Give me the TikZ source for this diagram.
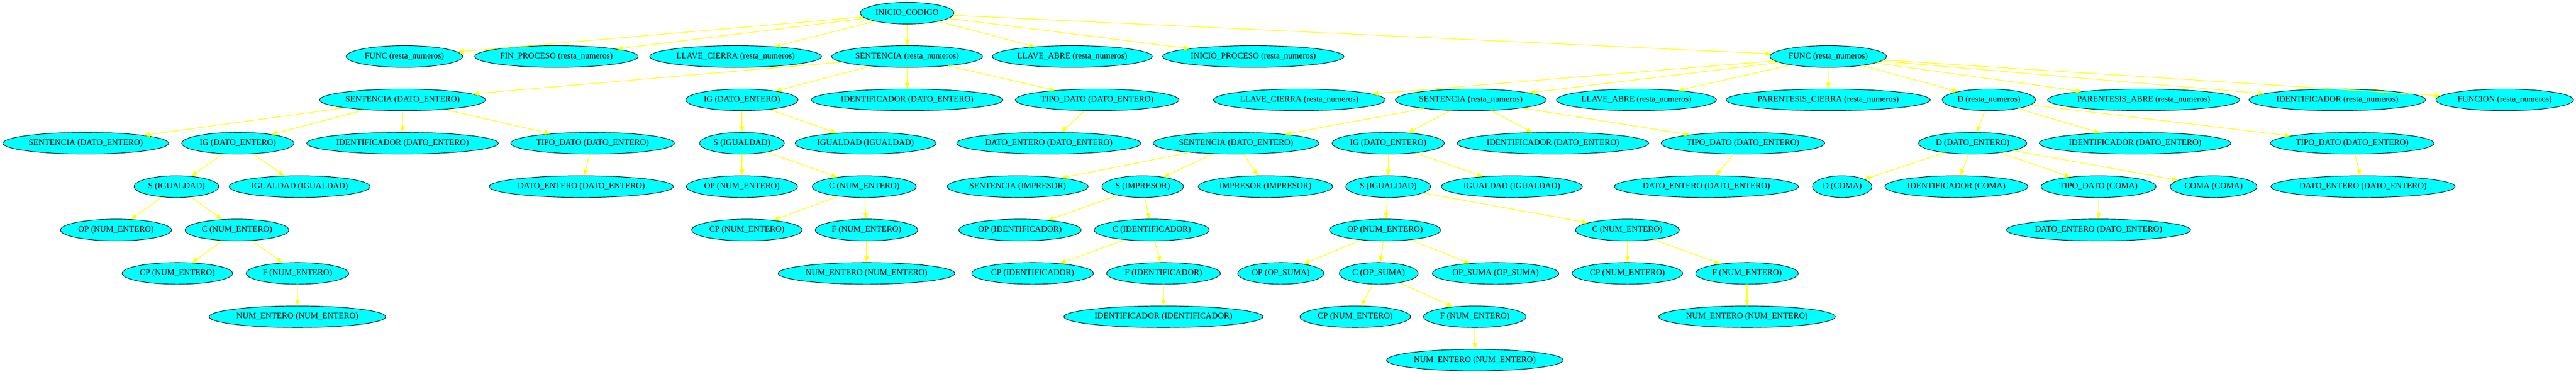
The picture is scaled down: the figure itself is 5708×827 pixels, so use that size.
\documentclass[tikz,border=0pt]{standalone}
\usepackage{fontspec}
\setmainfont{Liberation Serif}
\usetikzlibrary{shapes.geometric,arrows.meta}
\definecolor{cian}{RGB}{0,255,255}
\definecolor{amarillo}{RGB}{255,255,0}
\begin{document}
\begin{tikzpicture}[x=0.75pt,y=-0.75pt,>={Triangle[length=10pt,width=7.5pt]},
  nodo/.style={ellipse,draw=black,fill=cian,line width=0.8pt,inner xsep=2.5pt,inner ysep=3pt,minimum height=36pt,font=\fontsize{14}{16}\selectfont},
  every edge/.style={draw=amarillo,line width=1.1pt}]
\useasboundingbox (0,0) rectangle (5708,827);
\node[nodo] (ini) at (2010,29) {INICIO\_CODIGO};
\node[nodo] (fa) at (896,125) {FUNC (resta\_numeros)};
\node[nodo] (fp) at (1233,125) {FIN\_PROCESO (resta\_numeros)};
\node[nodo] (lc) at (1630,125) {LLAVE\_CIERRA (resta\_numeros)};
\node[nodo] (sa) at (2010,125) {SENTENCIA (resta\_numeros)};
\node[nodo] (la) at (2376,125) {LLAVE\_ABRE (resta\_numeros)};
\node[nodo] (ip) at (2777,125) {INICIO\_PROCESO (resta\_numeros)};
\node[nodo] (fb) at (4051,125) {FUNC (resta\_numeros)};
\node[nodo] (sb) at (892,221) {SENTENCIA (DATO\_ENTERO)};
\node[nodo] (iga) at (1644,221) {IG (DATO\_ENTERO)};
\node[nodo] (ida) at (2010,221) {IDENTIFICADOR (DATO\_ENTERO)};
\node[nodo] (tda) at (2431,221) {TIPO\_DATO (DATO\_ENTERO)};
\node[nodo] (lcb) at (2879,221) {LLAVE\_CIERRA (resta\_numeros)};
\node[nodo] (sc) at (3259,221) {SENTENCIA (resta\_numeros)};
\node[nodo] (lab) at (3626,221) {LLAVE\_ABRE (resta\_numeros)};
\node[nodo] (pc) at (4051,221) {PARENTESIS\_CIERRA (resta\_numeros)};
\node[nodo] (da) at (4407,221) {D (resta\_numeros)};
\node[nodo] (pa) at (4750,221) {PARENTESIS\_ABRE (resta\_numeros)};
\node[nodo] (idb) at (5179,221) {IDENTIFICADOR (resta\_numeros)};
\node[nodo] (fn) at (5550,221) {FUNCION (resta\_numeros)};
\node[nodo] (sd) at (190,317) {SENTENCIA (DATO\_ENTERO)};
\node[nodo] (igb) at (527,317) {IG (DATO\_ENTERO)};
\node[nodo] (idc) at (892,317) {IDENTIFICADOR (DATO\_ENTERO)};
\node[nodo] (tdb) at (1313,317) {TIPO\_DATO (DATO\_ENTERO)};
\node[nodo] (sia) at (1644,317) {S (IGUALDAD)};
\node[nodo] (gua) at (1918,317) {IGUALDAD (IGUALDAD)};
\node[nodo] (dea) at (2324,317) {DATO\_ENTERO (DATO\_ENTERO)};
\node[nodo] (se) at (2739,317) {SENTENCIA (DATO\_ENTERO)};
\node[nodo] (igc) at (3076,317) {IG (DATO\_ENTERO)};
\node[nodo] (idd) at (3441,317) {IDENTIFICADOR (DATO\_ENTERO)};
\node[nodo] (tdc) at (3862,317) {TIPO\_DATO (DATO\_ENTERO)};
\node[nodo] (db) at (4371,317) {D (DATO\_ENTERO)};
\node[nodo] (ide) at (4731,317) {IDENTIFICADOR (DATO\_ENTERO)};
\node[nodo] (tdd) at (5212,317) {TIPO\_DATO (DATO\_ENTERO)};
\node[nodo] (sib) at (391,413) {S (IGUALDAD)};
\node[nodo] (gub) at (664,413) {IGUALDAD (IGUALDAD)};
\node[nodo] (deb) at (1288,413) {DATO\_ENTERO (DATO\_ENTERO)};
\node[nodo] (opa) at (1644,413) {OP (NUM\_ENTERO)};
\node[nodo] (ca) at (1915,413) {C (NUM\_ENTERO)};
\node[nodo] (sf) at (2255,413) {SENTENCIA (IMPRESOR)};
\node[nodo] (sim) at (2532,413) {S (IMPRESOR)};
\node[nodo] (imp) at (2804,413) {IMPRESOR (IMPRESOR)};
\node[nodo] (sic) at (3076,413) {S (IGUALDAD)};
\node[nodo] (guc) at (3350,413) {IGUALDAD (IGUALDAD)};
\node[nodo] (dec) at (3781,413) {DATO\_ENTERO (DATO\_ENTERO)};
\node[nodo] (dc) at (4082,413) {D (COMA)};
\node[nodo] (idf) at (4335,413) {IDENTIFICADOR (COMA)};
\node[nodo] (tde) at (4650,413) {TIPO\_DATO (COMA)};
\node[nodo] (coma) at (4905,413) {COMA (COMA)};
\node[nodo] (ded) at (5236,413) {DATO\_ENTERO (DATO\_ENTERO)};
\node[nodo] (opb) at (257,509) {OP (NUM\_ENTERO)};
\node[nodo] (cb) at (525,509) {C (NUM\_ENTERO)};
\node[nodo] (cpa) at (1655,509) {CP (NUM\_ENTERO)};
\node[nodo] (fe) at (1920,509) {F (NUM\_ENTERO)};
\node[nodo] (opi) at (2260,509) {OP (IDENTIFICADOR)};
\node[nodo] (ci) at (2552,509) {C (IDENTIFICADOR)};
\node[nodo] (opc) at (3069,509) {OP (NUM\_ENTERO)};
\node[nodo] (cc) at (3606,509) {C (NUM\_ENTERO)};
\node[nodo] (dee) at (4650,509) {DATO\_ENTERO (DATO\_ENTERO)};
\node[nodo] (cpb) at (393,605) {CP (NUM\_ENTERO)};
\node[nodo] (feb) at (659,605) {F (NUM\_ENTERO)};
\node[nodo] (nea) at (1920,605) {NUM\_ENTERO (NUM\_ENTERO)};
\node[nodo] (cpi) at (2288,605) {CP (IDENTIFICADOR)};
\node[nodo] (fi) at (2578,605) {F (IDENTIFICADOR)};
\node[nodo] (ops) at (2838,605) {OP (OP\_SUMA)};
\node[nodo] (cs) at (3055,605) {C (OP\_SUMA)};
\node[nodo] (sum) at (3314,605) {OP\_SUMA (OP\_SUMA)};
\node[nodo] (cpc) at (3606,605) {CP (NUM\_ENTERO)};
\node[nodo] (fec) at (3871,605) {F (NUM\_ENTERO)};
\node[nodo] (neb) at (659,701) {NUM\_ENTERO (NUM\_ENTERO)};
\node[nodo] (idi) at (2578,701) {IDENTIFICADOR (IDENTIFICADOR)};
\node[nodo] (cpd) at (3003,701) {CP (NUM\_ENTERO)};
\node[nodo] (fed) at (3268,701) {F (NUM\_ENTERO)};
\node[nodo] (nec) at (3871,701) {NUM\_ENTERO (NUM\_ENTERO)};
\node[nodo] (ned) at (3268,797) {NUM\_ENTERO (NUM\_ENTERO)};
\path[->] (ini) edge (fa) edge (fp) edge (lc) edge (sa) edge (la) edge (ip) edge (fb);
\path[->] (sa) edge (sb) edge (iga) edge (ida) edge (tda);
\path[->] (fb) edge (lcb) edge (sc) edge (lab) edge (pc) edge (da) edge (pa) edge (idb) edge (fn);
\path[->] (sb) edge (sd) edge (igb) edge (idc) edge (tdb);
\path[->] (iga) edge (sia) edge (gua);
\path[->] (tda) edge (dea);
\path[->] (sc) edge (se) edge (igc) edge (idd) edge (tdc);
\path[->] (da) edge (db) edge (ide) edge (tdd);
\path[->] (igb) edge (sib) edge (gub);
\path[->] (tdb) edge (deb);
\path[->] (sia) edge (opa) edge (ca);
\path[->] (se) edge (sf) edge (sim) edge (imp);
\path[->] (igc) edge (sic) edge (guc);
\path[->] (tdc) edge (dec);
\path[->] (db) edge (dc) edge (idf) edge (tde) edge (coma);
\path[->] (tdd) edge (ded);
\path[->] (sib) edge (opb) edge (cb);
\path[->] (ca) edge (cpa) edge (fe);
\path[->] (sim) edge (opi) edge (ci);
\path[->] (sic) edge (opc) edge (cc);
\path[->] (tde) edge (dee);
\path[->] (cb) edge (cpb) edge (feb);
\path[->] (fe) edge (nea);
\path[->] (ci) edge (cpi) edge (fi);
\path[->] (opc) edge (ops) edge (cs) edge (sum);
\path[->] (cc) edge (cpc) edge (fec);
\path[->] (feb) edge (neb);
\path[->] (fi) edge (idi);
\path[->] (cs) edge (cpd) edge (fed);
\path[->] (fec) edge (nec);
\path[->] (fed) edge (ned);
\end{tikzpicture}
\end{document}
